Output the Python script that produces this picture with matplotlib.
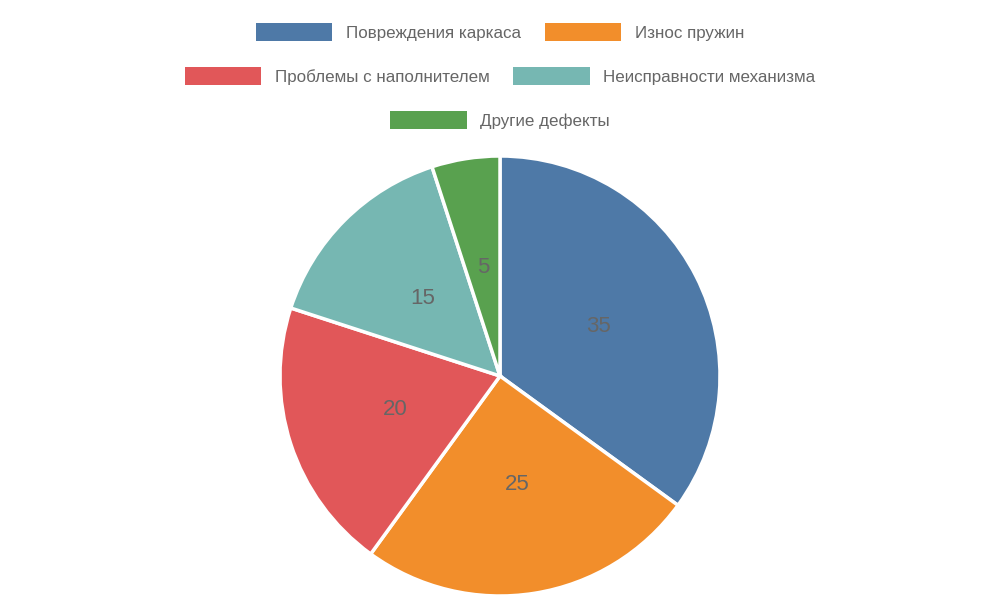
import matplotlib
matplotlib.use("Agg")
import matplotlib.pyplot as plt
from matplotlib.patches import Patch

labels = ["Повреждения каркаса", "Износ пружин", "Проблемы с наполнителем",
          "Неисправности механизма", "Другие дефекты"]
values = [35, 25, 20, 15, 5]
colors = ["#4e79a7", "#f28e2b", "#e15759", "#76b7b2", "#59a14f"]

plt.rcParams['font.family'] = ['Liberation Sans', 'DejaVu Sans']
fig = plt.figure(figsize=(10, 6), dpi=100)
ax = fig.add_axes([0.28, 4/600, 0.44, 440/600])
ax.pie(values, colors=colors, startangle=90, counterclock=False,
       labels=[str(v) for v in values], labeldistance=None,
       wedgeprops=dict(edgecolor="white", linewidth=2.5))
import numpy as np
ang = 90.0
for v in values:
    mid = np.deg2rad(ang - v / 100 * 360 / 2)
    ax.text(0.5 * np.cos(mid), 0.5 * np.sin(mid), str(v), ha="center", va="center",
            fontsize=16, color="#666666")
    ang -= v / 100 * 360
ax.set_xlim(-1, 1); ax.set_ylim(-1, 1); ax.set_aspect("equal"); ax.axis("off")

rows = [[0, 1], [2, 3], [4]]
ys = [32, 76, 120]
for r, y in zip(rows, ys):
    handles = [Patch(facecolor=colors[i], label=labels[i]) for i in r]
    fig.legend(handles=handles, loc="center", bbox_to_anchor=(0.5, 1 - y / 600),
               ncol=len(r), frameon=False, fontsize=17 * 72 / 100,
               handlelength=4.5, handleheight=1.2, handletextpad=0.8,
               columnspacing=1.4, labelcolor="#666666", borderpad=0, borderaxespad=0)
fig.savefig("out.png", dpi=100)
